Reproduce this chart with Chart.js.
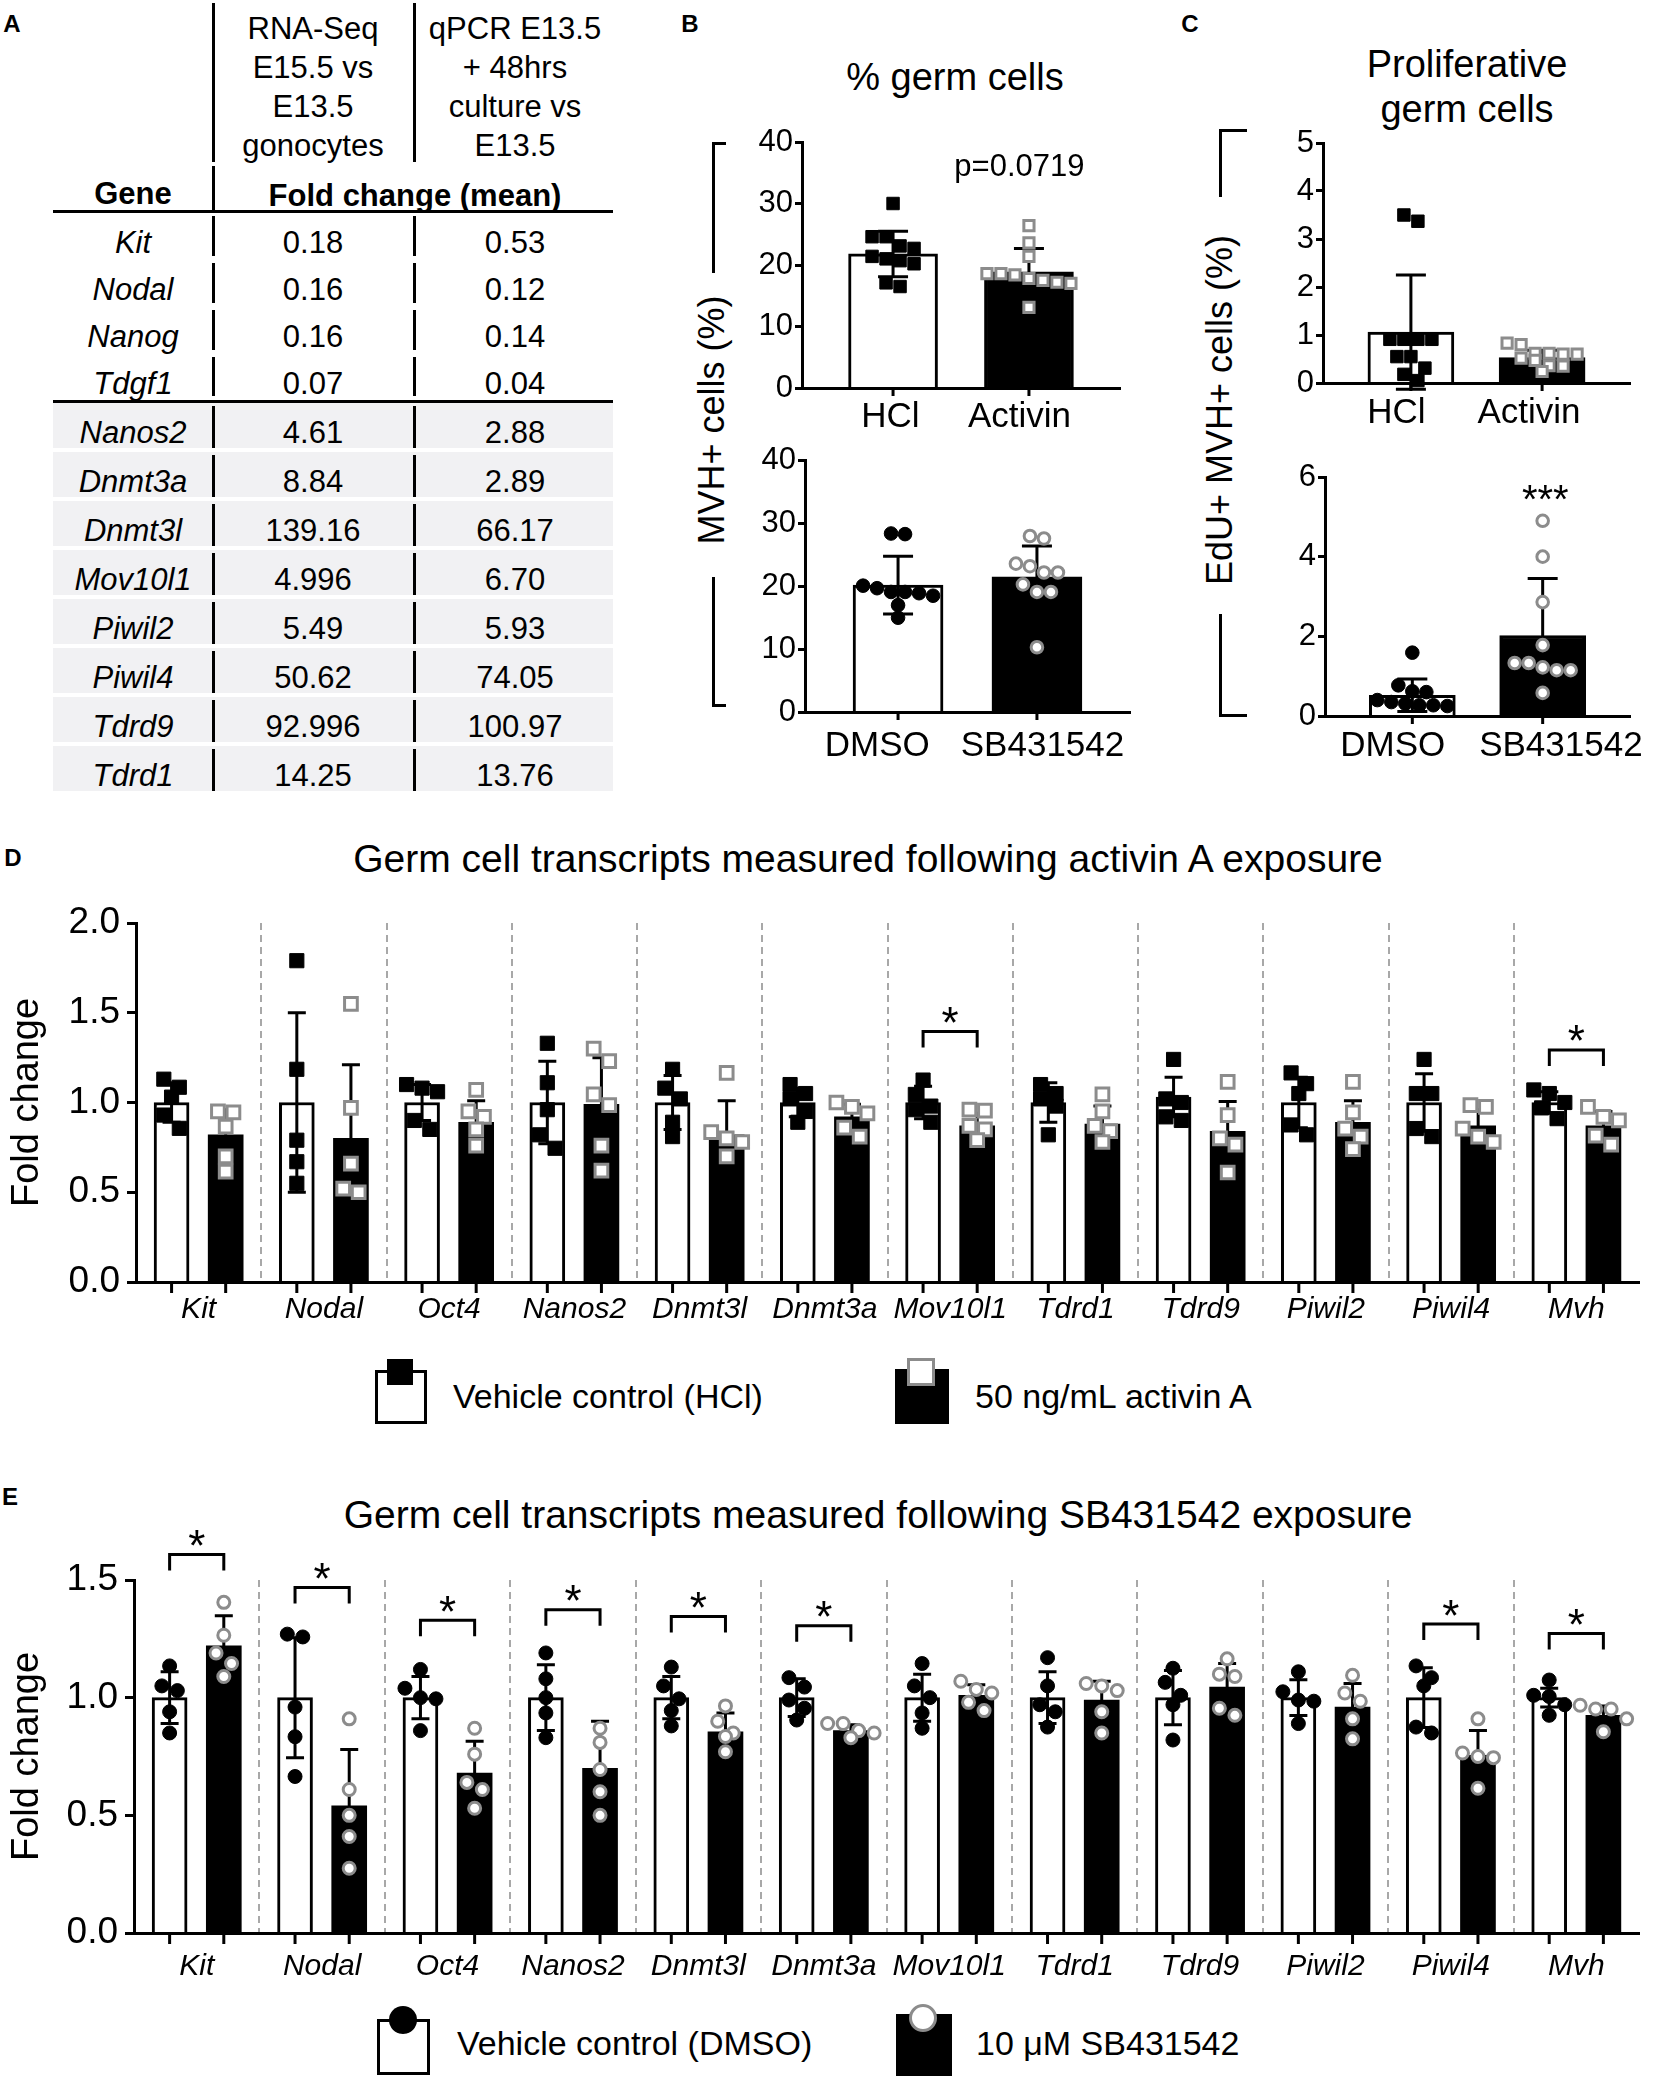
<!DOCTYPE html>
<html>
<head>
<meta charset="utf-8">
<script src="https://cdn.jsdelivr.net/npm/chart.js@4.4.1/dist/chart.umd.min.js"></script>
<style>
  body { margin: 0; background: #fff; }
  #page { position: relative; width: 1654px; height: 2077px; overflow: hidden;
          font-family: "Liberation Sans", Arial, Helvetica, sans-serif; color: #000; background: #fff; }
  .abs { position: absolute; white-space: nowrap; line-height: 1; }
  canvas { position: absolute; }
</style>
</head>
<body>
<div id="page"></div>
<script>
// ---------- data: panel A table
const tableGenes = ['Kit', 'Nodal', 'Nanog', 'Tdgf1', 'Nanos2', 'Dnmt3a', 'Dnmt3l', 'Mov10l1', 'Piwil2', 'Piwil4', 'Tdrd9', 'Tdrd1'];
const rnaSeqFold = ['0.18', '0.16', '0.16', '0.07', '4.61', '8.84', '139.16', '4.996', '5.49', '50.62', '92.996', '14.25'];
const qpcrFold = ['0.53', '0.12', '0.14', '0.04', '2.88', '2.89', '66.17', '6.70', '5.93', '74.05', '100.97', '13.76'];

// ---------- data: panel B (% germ cells)
const bTopLabels = ['HCl', 'Activin'];
const bTopMean = [21.8, 18.9];
const bTopSd = [3.7, 3.8];
const bTopHcl = [30, 24.6, 24.6, 23.1, 22.7, 21.4, 21.0, 20.7, 20.2, 17.1, 16.5];
const bTopAct = [26.4, 23.6, 21.4, 18.6, 18.6, 18.4, 17.8, 17.5, 17.2, 17.0, 13.1];
const bBotLabels = ['DMSO', 'SB431542'];
const bBotMean = [20.2, 21.5];
const bBotSd = [4.6, 4.9];
const bBotDmso = [28.3, 28.4, 20.1, 19.7, 19.1, 19.1, 18.9, 18.5, 17.0, 15.0];
const bBotSb = [28.0, 27.6, 23.6, 23.2, 22.2, 22.2, 20.3, 19.1, 19.1, 10.3];

// ---------- data: panel C (proliferative germ cells)
const cTopMean = [1.06, 0.53];
const cTopSd = [1.19, 0.15];
const cTopHcl = [3.5, 3.37, 0.91, 0.91, 0.91, 0.91, 0.55, 0.55, 0.31, 0.18, 0.05];
const cTopAct = [0.83, 0.80, 0.62, 0.62, 0.60, 0.60, 0.52, 0.47, 0.36, 0.35, 0.24];
const cBotMean = [0.52, 2.02];
const cBotSd = [0.41, 1.43];
const cBotDmso = [1.59, 0.77, 0.62, 0.60, 0.40, 0.35, 0.31, 0.27, 0.27, 0.25];
const cBotSb = [4.9, 4.0, 2.86, 1.78, 1.33, 1.33, 1.22, 1.15, 1.15, 0.58];

// ---------- data: panels D and E
const genes = ['Kit', 'Nodal', 'Oct4', 'Nanos2', 'Dnmt3l', 'Dnmt3a', 'Mov10l1', 'Tdrd1', 'Tdrd9', 'Piwil2', 'Piwil4', 'Mvh'];
const foldTicks = [0, 0.5, 1.0, 1.5, 2.0];

const dHclMean = [1.0, 1.0, 1.0, 1.0, 1.0, 1.0, 1.0, 1.0, 1.03, 1.0, 1.0, 1.0];
const dHclSd = [0.11, 0.50, 0.10, 0.23, 0.15, 0.08, 0.09, 0.11, 0.11, 0.14, 0.16, 0.06];
const dActMean = [0.82, 0.80, 0.89, 0.99, 0.82, 0.92, 0.87, 0.88, 0.84, 0.89, 0.87, 0.87];
const dActSd = [0.14, 0.41, 0.12, 0.26, 0.19, 0.07, 0.07, 0.10, 0.165, 0.12, 0.09, 0.08];
const dHclPts = [
  [1.13, 1.085, 1.03, 0.93, 0.856], [1.79, 1.185, 0.79, 0.67, 0.55], [1.10, 1.08, 1.06, 0.90, 0.85],
  [1.33, 1.11, 0.96, 0.82, 0.745], [1.185, 1.08, 1.02, 0.89, 0.81], [1.10, 1.05, 1.02, 0.95, 0.89],
  [1.125, 1.045, 0.98, 0.96, 0.89], [1.10, 1.05, 1.02, 0.98, 0.82], [1.24, 1.02, 1.0, 0.92, 0.90],
  [1.165, 1.105, 1.05, 0.875, 0.82], [1.24, 1.05, 1.05, 0.855, 0.81], [1.07, 1.05, 1.0, 0.97, 0.91]
];
const dActPts = [
  [0.95, 0.945, 0.865, 0.70, 0.615], [1.55, 0.97, 0.66, 0.52, 0.50], [1.07, 0.95, 0.92, 0.85, 0.76],
  [1.30, 1.23, 1.045, 0.985, 0.76, 0.62], [1.165, 0.835, 0.80, 0.78, 0.70], [1.0, 0.975, 0.94, 0.86, 0.81],
  [0.96, 0.955, 0.87, 0.85, 0.79], [1.045, 0.95, 0.87, 0.84, 0.78], [1.115, 0.93, 0.80, 0.765, 0.61],
  [1.115, 0.945, 0.855, 0.81, 0.74], [0.985, 0.975, 0.855, 0.81, 0.78], [0.975, 0.92, 0.90, 0.815, 0.765]
];
const dSig = [{ g: 6, y: 1.395 }, { g: 11, y: 1.293 }];

const eDmsoMean = [1.0, 1.0, 1.0, 1.0, 1.0, 1.0, 1.0, 1.0, 1.0, 1.0, 1.0, 1.0];
const eDmsoSd = [0.11, 0.255, 0.09, 0.14, 0.09, 0.08, 0.10, 0.11, 0.115, 0.076, 0.127, 0.04];
const eSbMean = [1.22, 0.54, 0.68, 0.70, 0.855, 0.86, 1.01, 0.99, 1.045, 0.96, 0.755, 0.925];
const eSbSd = [0.128, 0.24, 0.135, 0.20, 0.08, 0.025, 0.045, 0.08, 0.10, 0.10, 0.105, 0.04];
const eDmsoPts = [
  [1.135, 1.05, 1.03, 0.94, 0.85], [1.27, 1.258, 0.96, 0.834, 0.665], [1.12, 1.04, 1.0, 0.995, 0.86],
  [1.19, 1.08, 1.0, 0.935, 0.83], [1.13, 1.05, 0.995, 0.945, 0.88], [1.085, 1.045, 0.99, 0.955, 0.905],
  [1.145, 1.05, 1.0, 0.935, 0.87], [1.17, 1.05, 0.97, 0.94, 0.875], [1.125, 1.065, 1.01, 0.97, 0.82],
  [1.11, 1.025, 0.99, 0.985, 0.89], [1.135, 1.085, 1.05, 0.875, 0.85], [1.075, 1.01, 1.005, 0.97, 0.925]
];
const eSbPts = [
  [1.405, 1.265, 1.19, 1.145, 1.09], [0.91, 0.61, 0.50, 0.41, 0.275], [0.87, 0.76, 0.64, 0.61, 0.53],
  [0.87, 0.81, 0.695, 0.60, 0.50], [0.965, 0.90, 0.85, 0.835, 0.77], [0.89, 0.89, 0.86, 0.85, 0.83],
  [1.07, 1.035, 1.02, 0.98, 0.945], [1.06, 1.05, 1.03, 0.94, 0.85], [1.165, 1.10, 1.09, 0.955, 0.925],
  [1.095, 1.02, 0.985, 0.91, 0.825], [0.91, 0.765, 0.75, 0.745, 0.615], [0.968, 0.952, 0.952, 0.91, 0.855]
];
const eSig = [
  { g: 0, y: 1.608 }, { g: 1, y: 1.468 }, { g: 2, y: 1.329 }, { g: 3, y: 1.374 },
  { g: 4, y: 1.345 }, { g: 5, y: 1.306 }, { g: 10, y: 1.313 }, { g: 11, y: 1.273 }
];

// ---------- helpers
const FONT = '"Liberation Sans", Arial, Helvetica, sans-serif';
const GREY = '#8c8c8c';
Chart.defaults.font.family = FONT;
Chart.defaults.color = '#000';

const page = document.getElementById('page');

function txt(x, y, s, o = {}) {
  const d = document.createElement('div');
  d.className = 'abs';
  d.textContent = s;
  d.style.fontSize = (o.size || 31) + 'px';
  if (o.bold) d.style.fontWeight = 'bold';
  if (o.italic) d.style.fontStyle = 'italic';
  d.style.left = x + 'px';
  d.style.top = y + 'px';
  const tx = o.align === 'left' ? '0' : '-50%';
  d.style.transform = 'translate(' + tx + ',-50%)' + (o.rotate ? ' rotate(' + o.rotate + 'deg)' : '');
  page.appendChild(d);
}

function box(x, y, w, h, css) {
  const d = document.createElement('div');
  d.className = 'abs';
  d.style.left = x + 'px';
  d.style.top = y + 'px';
  d.style.width = w + 'px';
  d.style.height = h + 'px';
  d.style.boxSizing = 'border-box';
  Object.assign(d.style, css || { background: '#000' });
  page.appendChild(d);
}

function addCanvas(left, top, w, h) {
  const c = document.createElement('canvas');
  c.width = w; c.height = h;
  c.style.left = left + 'px'; c.style.top = top + 'px';
  c.style.width = w + 'px'; c.style.height = h + 'px';
  page.appendChild(c);
  return c;
}

// points whose values sit closer than one marker are laid side by side (scatter dot plot layout)
function swarm(vals, pxY, pxX, step) {
  const order = vals.map((v, i) => i).sort((a, b) => vals[b] - vals[a]);
  const off = new Array(vals.length).fill(0);
  let k = 0;
  while (k < order.length) {
    const row = [order[k]];
    let j = k + 1;
    while (j < order.length && (vals[order[k]] - vals[order[j]]) * pxY < step * 0.9) { row.push(order[j]); j++; }
    row.forEach((p, n) => { off[p] = (n - (row.length - 1) / 2) * step / pxX; });
    k = j;
  }
  return off;
}

function swarmPts(groups, centers, pxX, pxY, step) {
  const pts = [];
  groups.forEach((vals, g) => {
    const off = swarm(vals, pxY, pxX, step);
    vals.forEach((v, i) => pts.push({ x: centers[g] + off[i], y: v }));
  });
  return pts;
}

// error bars, bar tick marks, brackets and text notes
const gpDecor = {
  id: 'gpDecor',
  afterDatasetDraw(chart, args, o) {
    const ds = chart.data.datasets[args.index];
    if (!ds.sd) return;
    const ys = chart.scales.y, ctx = chart.ctx;
    ctx.save();
    ctx.strokeStyle = '#000';
    ctx.lineWidth = 3;
    args.meta.data.forEach((el, i) => {
      const m = ds.data[i].y, s = ds.sd[i];
      const top = ys.getPixelForValue(m + s), bot = ys.getPixelForValue(m - s);
      ctx.beginPath();
      ctx.moveTo(el.x, top); ctx.lineTo(el.x, bot);
      ctx.moveTo(el.x - o.cap, top); ctx.lineTo(el.x + o.cap, top);
      ctx.moveTo(el.x - o.cap, bot); ctx.lineTo(el.x + o.cap, bot);
      ctx.stroke();
    });
    ctx.restore();
  },
  afterDatasetsDraw(chart, args, o) {
    const ctx = chart.ctx, xs = chart.scales.x, ys = chart.scales.y, a = chart.chartArea;
    ctx.save();
    ctx.strokeStyle = '#000';
    ctx.fillStyle = '#000';
    ctx.lineWidth = 3;
    chart.data.datasets.forEach((ds, di) => {
      if (ds.type !== 'bar') return;
      chart.getDatasetMeta(di).data.forEach(el => {
        ctx.beginPath(); ctx.moveTo(el.x, a.bottom); ctx.lineTo(el.x, a.bottom + o.tickLen); ctx.stroke();
      });
    });
    ctx.textAlign = 'center';
    (o.brackets || []).forEach(b => {
      const x1 = xs.getPixelForValue(b.g - o.xOff), x2 = xs.getPixelForValue(b.g + o.xOff);
      const y = ys.getPixelForValue(b.y);
      ctx.beginPath();
      ctx.moveTo(x1, y + 16); ctx.lineTo(x1, y); ctx.lineTo(x2, y); ctx.lineTo(x2, y + 16);
      ctx.stroke();
      ctx.font = '44px ' + FONT;
      ctx.textBaseline = 'alphabetic';
      ctx.fillText('*', (x1 + x2) / 2, y - 19 + 0.58 * 44);
    });
    (o.notes || []).forEach(n => {
      const x = xs.getPixelForValue(n.x), y = ys.getPixelForValue(n.y);
      ctx.font = n.size + 'px ' + FONT;
      if (n.star) { ctx.textBaseline = 'alphabetic'; ctx.fillText(n.text, x, y + 0.58 * n.size); }
      else { ctx.textBaseline = 'middle'; ctx.fillText(n.text, x, y); }
    });
    ctx.restore();
  }
};

// ---------- small two-bar charts (B, C)
function smallChart(p) {
  const c = addCanvas(p.left, p.top, p.w, p.h);
  const pxX = (p.w - p.yW - p.padRight) / 2.34;
  const pxY = (p.h - p.padTop - p.xH) / p.yMax;
  const sq = p.marker === 'rect';
  return new Chart(c, {
    type: 'bar',
    data: {
      datasets: [
        { type: 'bar', data: p.means.map((m, i) => ({ x: i, y: m })), sd: p.sds,
          backgroundColor: ['#fff', '#000'], borderColor: '#000', borderWidth: 3, borderSkipped: 'start',
          barThickness: p.barW, grouped: false, order: 2 },
        { type: 'scatter', data: swarmPts([p.ctrl], [0], pxX, pxY, 14), pointStyle: p.marker,
          pointRadius: sq ? 8.8 : 6.8, backgroundColor: '#000', borderColor: '#000', borderWidth: 1, order: 1, clip: false },
        { type: 'scatter', data: swarmPts([p.trt], [1], pxX, pxY, 14), pointStyle: p.marker,
          pointRadius: sq ? 7.2 : 5.8, backgroundColor: '#fff', borderColor: GREY, borderWidth: 3, order: 1, clip: false }
      ]
    },
    options: {
      responsive: false, animation: false, events: [], devicePixelRatio: 1,
      layout: { autoPadding: false, padding: { top: p.padTop, right: p.padRight, left: 0, bottom: 0 } },
      plugins: { legend: { display: false }, tooltip: { enabled: false },
                 gpDecor: { cap: 15, tickLen: 8, notes: p.notes || [] } },
      scales: {
        x: {
          type: 'linear', min: -0.67, max: 1.67, offset: false,
          // labels sit a little apart from the bar centres, as in the original layout
          afterBuildTicks: s => { s.ticks = p.labelAt.map(v => ({ value: v })); },
          afterFit: s => { s.height = p.xH; },
          ticks: { callback: (v, i) => p.labels[i], font: { size: 35 }, padding: p.xPad, maxRotation: 0, autoSkip: false },
          grid: { display: false },
          border: { color: '#000', width: 3, z: 1 }
        },
        y: {
          min: 0, max: p.yMax,
          afterFit: s => { s.width = p.yW; },
          ticks: { stepSize: p.yStep, font: { size: 31 }, padding: 2 },
          grid: { drawOnChartArea: false, drawTicks: true, tickLength: 7, tickWidth: 3, tickColor: '#000' },
          border: { color: '#000', width: 3, z: 1 }
        }
      }
    },
    plugins: [gpDecor]
  });
}

// ---------- gene panels (D, E)
function geneChart(p) {
  const c = addCanvas(0, p.top, 1654, p.h);
  const xOff = 0.216;
  const pxX = (1654 - p.yW - p.padRight) / 12;
  const pxY = (p.h - p.padTop - p.xH) / p.yMax;
  const sq = p.marker === 'rect';
  const cc = genes.map((g, i) => i - xOff), tc = genes.map((g, i) => i + xOff);
  return new Chart(c, {
    type: 'bar',
    data: {
      datasets: [
        { type: 'bar', data: p.ctrlMean.map((m, i) => ({ x: cc[i], y: m })), sd: p.ctrlSd,
          backgroundColor: '#fff', borderColor: '#000', borderWidth: 3, borderSkipped: 'start',
          barThickness: 35, grouped: false, order: 2 },
        { type: 'bar', data: p.trtMean.map((m, i) => ({ x: tc[i], y: m })), sd: p.trtSd,
          backgroundColor: '#000', borderColor: '#000', borderWidth: 0,
          barThickness: 35, grouped: false, order: 2 },
        { type: 'scatter', data: swarmPts(p.ctrlPts, cc, pxX, pxY, 15.5), pointStyle: p.marker,
          pointRadius: sq ? 10 : 7, backgroundColor: '#000', borderColor: '#000', borderWidth: 1, order: 1, clip: false },
        { type: 'scatter', data: swarmPts(p.trtPts, tc, pxX, pxY, 15.5), pointStyle: p.marker,
          pointRadius: sq ? 9 : 6, backgroundColor: '#fff', borderColor: GREY, borderWidth: 3, order: 1, clip: false }
      ]
    },
    options: {
      responsive: false, animation: false, events: [], devicePixelRatio: 1,
      layout: { autoPadding: false, padding: { top: p.padTop, right: p.padRight, left: 0, bottom: 0 } },
      plugins: { legend: { display: false }, tooltip: { enabled: false },
                 gpDecor: { cap: 9, tickLen: 11, brackets: p.sig, xOff: xOff } },
      scales: {
        x: {
          type: 'linear', min: -0.5, max: 11.5, offset: false,
          afterBuildTicks: s => { s.ticks = genes.map((g, i) => ({ value: i })); },
          afterFit: s => { s.height = p.xH; },
          ticks: { callback: v => genes[v], font: { size: 30, style: 'italic' }, padding: p.xPad, maxRotation: 0, autoSkip: false },
          // dashed separators between gene groups (not at the two outer edges)
          grid: { offset: true, drawTicks: false, lineWidth: 2,
                  color: ctx => (ctx.type !== 'tick' || ctx.index === 0) ? 'rgba(0,0,0,0)' : '#a8a8a8' },
          border: { color: '#000', width: 3, dash: [7, 5], z: 1 }
        },
        y: {
          min: 0, max: p.yMax,
          afterBuildTicks: s => { s.ticks = foldTicks.filter(v => v <= p.yMax).map(v => ({ value: v })); },
          afterFit: s => { s.width = p.yW; },
          ticks: { callback: v => v.toFixed(1), font: { size: 37 }, padding: 7 },
          title: { display: true, text: 'Fold change', font: { size: 38 }, padding: { top: 5, bottom: 0 } },
          grid: { drawOnChartArea: false, drawTicks: true, tickLength: 9, tickWidth: 3, tickColor: '#000' },
          border: { color: '#000', width: 3, z: 1 }
        }
      }
    },
    plugins: [gpDecor]
  });
}

// ---------- panel A: table
txt(12, 24, 'A', { size: 24, bold: true });
[['RNA-Seq', 'E15.5 vs', 'E13.5', 'gonocytes'], ['qPCR E13.5', '+ 48hrs', 'culture vs', 'E13.5']].forEach((lines, col) => {
  lines.forEach((s, k) => txt(col ? 515 : 313, 28 + 39 * k, s, { size: 31 }));
});
box(212, 3, 3, 159); box(212, 166, 3, 44); box(413, 3, 3, 159);
txt(133, 193, 'Gene', { size: 31, bold: true });
txt(415, 195, 'Fold change (mean)', { size: 31, bold: true });
box(53, 210, 560, 3);
tableGenes.forEach((g, i) => {
  const lower = i >= 4;
  const top = lower ? 403 + 49 * (i - 4) : 213 + 47 * i;
  const h = lower ? 49 : (i === 3 ? 187 - 47 * 3 : 47);
  if (lower) box(53, top, 560, h - 4, { background: '#f1f1f3' });
  box(212, top + 3, 3, h - 7); box(413, top + 3, 3, h - 7);
  const cy = top + 29;
  txt(133, cy, g, { size: 31, italic: true });
  txt(313, cy, rnaSeqFold[i], { size: 31 });
  txt(515, cy, qpcrFold[i], { size: 31 });
});
box(53, 400, 560, 3);

// ---------- panel B
txt(690, 24, 'B', { size: 24, bold: true });
txt(955, 77, '% germ cells', { size: 38 });
box(712, 143, 2.5, 130); box(712, 577, 2.5, 129);
box(712, 142, 14, 2.5); box(712, 704, 14, 2.5);
txt(712, 420, 'MVH+ cells (%)', { size: 36, rotate: -90 });
smallChart({ left: 740, top: 100, w: 400, h: 340, padTop: 42, padRight: 20, yW: 62, xH: 52, xPad: 0,
  yMax: 40, yStep: 10, labels: bTopLabels, labelAt: [-0.02, 0.93], means: bTopMean, sds: bTopSd, ctrl: bTopHcl, trt: bTopAct,
  marker: 'rect', barW: 89, notes: [{ x: 0.93, y: 35.9, text: 'p=0.0719', size: 31 }] });
smallChart({ left: 743, top: 440, w: 400, h: 340, padTop: 20, padRight: 13, yW: 62, xH: 68, xPad: 5,
  yMax: 40, yStep: 10, labels: bBotLabels, labelAt: [-0.15, 1.04], means: bBotMean, sds: bBotSd, ctrl: bBotDmso, trt: bBotSb,
  marker: 'circle', barW: 90 });

// ---------- panel C
txt(1190, 24, 'C', { size: 24, bold: true });
txt(1467, 64, 'Proliferative', { size: 38 });
txt(1467, 109, 'germ cells', { size: 38 });
box(1219, 130, 2.5, 67); box(1219, 614, 2.5, 101);
box(1219, 129, 28, 2.5); box(1219, 714, 28, 2.5);
txt(1220, 410, 'EdU+ MVH+ cells (%)', { size: 36, rotate: -90 });
smallChart({ left: 1260, top: 100, w: 394, h: 340, padTop: 43, padRight: 24, yW: 63, xH: 57, xPad: 1,
  yMax: 5, yStep: 1, labels: bTopLabels, labelAt: [-0.11, 0.9], means: cTopMean, sds: cTopSd, ctrl: cTopHcl, trt: cTopAct,
  marker: 'rect', barW: 86 });
smallChart({ left: 1260, top: 440, w: 394, h: 340, padTop: 37, padRight: 24, yW: 65, xH: 64, xPad: 1,
  yMax: 6, yStep: 2, labels: bBotLabels, labelAt: [-0.15, 1.14], means: cBotMean, sds: cBotSd, ctrl: cBotDmso, trt: cBotSb,
  marker: 'circle', barW: 86, notes: [{ x: 1.02, y: 5.67, text: '***', size: 40, star: true }] });

// ---------- panel D
txt(13, 858, 'D', { size: 24, bold: true });
txt(868, 858, 'Germ cell transcripts measured following activin A exposure', { size: 39 });
geneChart({ top: 880, h: 460, padTop: 43, padRight: 15, yW: 136, xH: 58, xPad: 10, yMax: 2,
  ctrlMean: dHclMean, ctrlSd: dHclSd, trtMean: dActMean, trtSd: dActSd,
  ctrlPts: dHclPts, trtPts: dActPts, marker: 'rect', sig: dSig });
box(375, 1370, 52, 54, { border: '3px solid #000', background: '#fff' });
box(387, 1359, 26, 26);
box(895, 1369, 54, 55);
box(907, 1358, 28, 28, { background: '#fff', border: '3px solid ' + GREY });
txt(453, 1396, 'Vehicle control (HCl)', { size: 34, align: 'left' });
txt(975, 1396, '50 ng/mL activin A', { size: 34, align: 'left' });

// ---------- panel E
txt(10, 1497, 'E', { size: 24, bold: true });
txt(878, 1514, 'Germ cell transcripts measured following SB431542 exposure', { size: 39 });
geneChart({ top: 1525, h: 470, padTop: 55, padRight: 15, yW: 134, xH: 62, xPad: 16, yMax: 1.5,
  ctrlMean: eDmsoMean, ctrlSd: eDmsoSd, trtMean: eSbMean, trtSd: eSbSd,
  ctrlPts: eDmsoPts, trtPts: eSbPts, marker: 'circle', sig: eSig });
box(377, 2019, 53, 56, { border: '3px solid #000', background: '#fff' });
box(389, 2006, 28, 28, { borderRadius: '50%', background: '#000' });
box(896, 2014, 56, 62);
box(909, 2004, 28, 28, { borderRadius: '50%', background: '#fff', border: '3px solid ' + GREY });
txt(457, 2043, 'Vehicle control (DMSO)', { size: 34, align: 'left' });
txt(976, 2043, '10 \u03bcM SB431542', { size: 34, align: 'left' });
</script>
</body>
</html>
